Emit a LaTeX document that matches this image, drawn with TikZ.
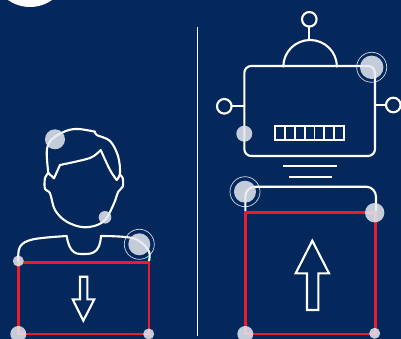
\documentclass[tikz,border=0pt]{standalone}
\usepackage{tikz}
\definecolor{navybg}{HTML}{05285C}
\definecolor{boxred}{HTML}{ED1C2B}
\definecolor{dotgray}{HTML}{E6E9F0}
\tikzset{
  outline/.style={draw=white, line width=2.1pt, line join=round, line cap=round},
  thinline/.style={draw=white, line width=1.8pt},
  redbox/.style={draw=boxred, line width=2.6pt},
  dot/.style={fill=dotgray, opacity=0.85},
  halo/.style={draw=dotgray, line width=0.7pt, opacity=0.9}
}
\begin{document}
\begin{tikzpicture}[x=1pt,y=-1pt]
\useasboundingbox (0,0) rectangle (401,339);
\clip (0,0) rectangle (401,339);
\fill[navybg] (0,0) rectangle (401,339);
\fill[white] (30,-31) circle (38);
\draw[white, line width=0.8pt] (197.5,27) -- (197.5,336);
% person: hair, face, shoulders
\draw[outline] plot[smooth, tension=0.6] coordinates {(48.3,173) (46.7,153) (49,143) (55,136.7) (66.7,130.7) (78.3,129) (95,131.7)};
\draw[outline] plot[smooth, tension=0.6] coordinates {(95,131.7) (96.7,135) (110,141) (118,156) (120,173) (116.7,180)};
\draw[outline] plot[smooth, tension=0.5] coordinates {(116.7,180) (110,170) (100.7,150)};
\draw[outline] plot[smooth, tension=0.5] coordinates {(100.7,150) (90,158) (60,165)};
\draw[outline] (60,165) -- (54,178.3) -- (48.3,173);
\draw[outline] plot[smooth, tension=0.6] coordinates {(48.3,173) (45,178) (45,189) (50,193.3) (55,210) (66.7,221.7) (85,227.3) (103.3,221.7) (113.3,205) (118.3,191.7) (122.7,186.7) (122.7,178) (120,175)};
\draw[outline] plot[smooth, tension=0.6] coordinates {(18.3,261) (20,246.7) (33.3,239.3) (66.7,236)};
\draw[outline] plot[smooth, tension=0.8] coordinates {(66.7,236) (71.7,250) (83.3,254) (96.7,250) (101,236)};
\draw[outline] plot[smooth, tension=0.6] coordinates {(101,236) (133.3,238.3) (148.3,250) (149,261)};
\draw[redbox] (18.3,262.3) rectangle (149,334);
\draw[outline, line cap=butt, line join=miter] (80,276.7) -- (87.3,276.7) -- (87.3,299.3) -- (94.3,299.3) -- (83.3,320.7) -- (72.7,299.3) -- (80,299.3) -- cycle;
% robot: antenna, dome, head, ears, panel
\draw[outline] (309.3,19.3) circle (7.3);
\draw[outline] (309.3,26.6) -- (309.3,40);
\draw[outline] (283.3,66.7) arc[start angle=180, end angle=360, x radius=26.8, y radius=26.7];
\draw[outline, rounded corners=7pt] (244.3,66) rectangle (375,156);
\draw[outline] (224.3,106.3) circle (7.3);
\draw[outline] (231.6,106.3) -- (244.3,106.3);
\draw[outline] (393.3,105) circle (7.3);
\draw[outline] (375,105) -- (386,105);
\draw[thinline] (275.3,126) rectangle (343.7,140);
\foreach \x in {285,295,304.7,314.5,324.2,334}
  \draw[thinline] (\x,126) -- (\x,140);
\draw[thinline] (283.3,166) -- (337,166);
\draw[thinline] (289,176.7) -- (331.7,176.7);
% laptop and up arrow
\draw[outline, rounded corners=10pt, line cap=butt] (245.3,212.7) -- (245.3,186.7) -- (376,186.7) -- (376,212.7);
\draw[redbox] (245.3,212.7) rectangle (375.7,334);
\draw[outline, line cap=butt, line join=miter] (307,310) -- (307,273.3) -- (295.7,273.3) -- (312.3,240.7) -- (329,273.3) -- (318.3,273.3) -- (318.3,310) -- cycle;
% markers
\foreach \x/\y/\r in {55/139.3/10,105/217.3/6.3,139.3/244.3/11,18.3/261/5.5,18.3/334/8,148.7/334/5.5,371.7/67.3/11.7,244.3/133.7/8,245/191.7/11,374.7/212.7/9.7,245.3/334/8,374.7/333.3/5.5}
  \fill[dot] (\x,\y) circle (\r);
\foreach \x/\y in {139.3/244.3,371.7/67.3,245/191.7}
  \draw[halo] (\x,\y) circle (15);
\end{tikzpicture}
\end{document}
